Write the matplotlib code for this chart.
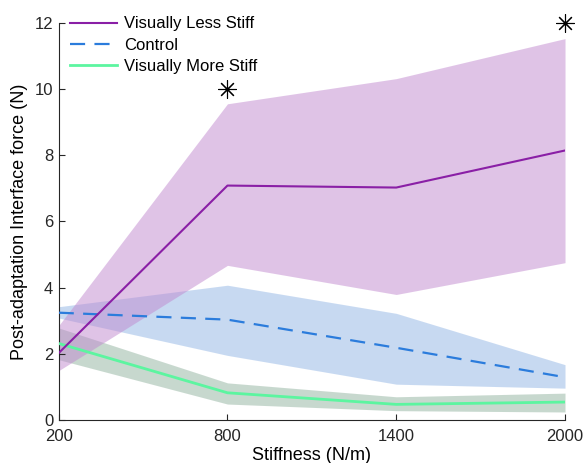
import matplotlib
matplotlib.use("Agg")
import matplotlib.pyplot as plt
import numpy as np

plt.rcParams['font.family'] = ['Liberation Sans', 'DejaVu Sans']

stiffness = [200, 800, 1400, 2000]
x_ticks = [200, 800, 1400, 2000]
y_ticks = [0, 2, 4, 6, 8, 10, 12]

less_mean = [2.02, 7.08, 7.02, 8.14]
less_upper = [2.85, 9.55, 10.31, 11.52]
less_lower = [1.49, 4.67, 3.79, 4.75]

ctrl_mean = [3.24, 3.03, 2.18, 1.29]
ctrl_upper = [3.42, 4.07, 3.22, 1.67]
ctrl_lower = [3.08, 1.95, 1.08, 0.96]

more_mean = [2.31, 0.82, 0.47, 0.54]
more_upper = [2.78, 1.12, 0.70, 0.81]
more_lower = [1.82, 0.48, 0.28, 0.24]

sig_x = [800, 2000]
sig_y = [10, 12]

labels = ["Visually Less Stiff", "Control", "Visually More Stiff"]

fig = plt.figure(figsize=(5.84, 4.63), dpi=100)
ax = fig.add_axes([0.1005, 0.093, 0.867, 0.858])

ax.fill_between(stiffness, more_lower, more_upper, color=(145/255, 179/255, 159/255), alpha=0.5, lw=0)
ax.fill_between(stiffness, ctrl_lower, ctrl_upper, color=(145/255, 181/255, 229/255), alpha=0.5, lw=0)
ax.fill_between(stiffness, less_lower, less_upper, color=(193/255, 136/255, 207/255), alpha=0.5, lw=0)

ax.plot(stiffness, more_mean, color='#5cf5a0', lw=2.0, label=labels[2], zorder=3)
ax.plot(stiffness, ctrl_mean, color='#2b7cdc', lw=1.6, ls=(0, (6.8, 4.2)), label=labels[1], zorder=4)
ax.plot(stiffness, less_mean, color='#8a1fa6', lw=1.5, label=labels[0], zorder=5)

ax.plot(sig_x, sig_y, ls='none', marker=(8, 2, 0), ms=13, mec='black', mew=0.8, clip_on=False, zorder=6)

ax.set_xlim(200, 2000)
ax.set_ylim(0, 12)
ax.set_xticks(x_ticks)
ax.set_yticks(y_ticks)
ax.tick_params(direction='in', length=4, width=0.8, labelsize=12, colors='#262626')
ax.tick_params(axis='x', pad=6.5)
ax.tick_params(axis='y', pad=4)
for s in ['top', 'right']:
    ax.spines[s].set_visible(False)
for s in ['left', 'bottom']:
    ax.spines[s].set_color('#262626')
    ax.spines[s].set_linewidth(0.8)

ax.set_xlabel("Stiffness (N/m)", fontsize=13, labelpad=2)
ax.set_ylabel("Post-adaptation Interface force (N)", fontsize=13, labelpad=5)

h, l = ax.get_legend_handles_labels()
order = [2, 1, 0]
ax.legend([h[i] for i in order], [l[i] for i in order], loc='upper left', frameon=False,
          fontsize=12, handlelength=2.8, handletextpad=0.4, labelspacing=0.38,
          bbox_to_anchor=(0.0, 1.045), borderaxespad=0.3)

fig.savefig("out.png", dpi=100)
